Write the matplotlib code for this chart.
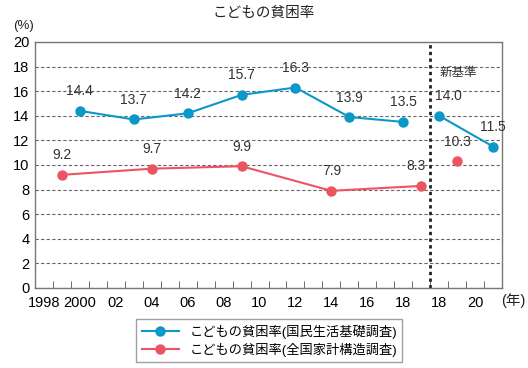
import matplotlib.pyplot as plt
import numpy as np

plt.rcParams['font.family'] = ['Liberation Sans', 'Noto Sans CJK JP']

# 国民生活基礎調査 (旧基準 / 新基準)
blue_years = [2000, 2003, 2006, 2009, 2012, 2015, 2018]
blue_vals = [14.4, 13.7, 14.2, 15.7, 16.3, 13.9, 13.5]
blue_new_years = [2018, 2021]
blue_new_vals = [14.0, 11.5]

# 全国家計構造調査
red_years = [1999, 2004, 2009, 2014, 2019]
red_vals = [9.2, 9.7, 9.9, 7.9, 8.3]
red_new_years = [2019]
red_new_vals = [10.3]

old_ticks = [1998, 2000, 2002, 2004, 2006, 2008, 2010, 2012, 2014, 2016, 2018]
old_labels = ["1998", "2000", "02", "04", "06", "08", "10", "12", "14", "16", "18"]
new_ticks = [2018, 2020]
new_labels = ["18", "20"]

BLUE = "#0b98c8"
RED = "#ec5462"


def pos(years, new=False):
    # 1年 = 1単位、旧基準は1998〜2019、新基準は2018〜2021
    y = np.asarray(years, dtype=float)
    if new:
        return 22 + (y - 2018) + 0.5
    return (y - 1998) + 0.5


fig = plt.figure(figsize=(5.28, 3.68), dpi=100)
ax = fig.add_axes([0.0663, 0.2174, 0.8845, 0.6685])

mk = dict(marker="o", markersize=7.5, linewidth=1.5, markeredgewidth=0)
ax.plot(pos(blue_years), blue_vals, color=BLUE, **mk)
ax.plot(pos(blue_new_years, True), blue_new_vals, color=BLUE, **mk)
ax.plot(pos(red_years), red_vals, color=RED, **mk)
ax.plot(pos(red_new_years, True), red_new_vals, color=RED, linestyle="none",
        marker="o", markersize=7.5, markeredgewidth=0)


def labels(xs, vals, dx=0):
    for x, v in zip(xs, vals):
        ax.annotate(f"{v:.1f}", (x, v), xytext=(dx, 9), textcoords="offset points",
                    ha="center", va="bottom", fontsize=10, color="#333333")


labels(pos(blue_years), blue_vals)
labels(pos(red_years[:-1]), red_vals[:-1])
labels(pos(red_years[-1:]), red_vals[-1:], dx=-4)
labels(pos(blue_new_years[:1], True), blue_new_vals[:1], dx=7)
labels(pos(blue_new_years[1:], True), blue_new_vals[1:])
labels(pos(red_new_years, True), red_new_vals)

ax.axvline(22, color="#222222", linestyle=(0, (1.2, 1.2)), linewidth=2)
ax.text(22.5, 17.5, "新基準", fontsize=9, color="#333333", ha="left", va="center")

ax.set_xlim(0, 26)
ax.set_ylim(0, 20)
ax.set_yticks(np.arange(0, 21, 2))
ax.tick_params(axis="y", length=0, labelsize=10.5, pad=4)
ax.grid(axis="y", color="#666666", linestyle=(0, (3, 2)), linewidth=0.8)
ax.set_axisbelow(True)

xt = list(pos(old_ticks)) + list(pos(new_ticks, True))
ax.set_xticks(xt)
ax.set_xticklabels(old_labels + new_labels)
ax.set_xticks(np.arange(0, 27), minor=True)
ax.tick_params(axis="x", which="major", length=0, labelsize=10.5, pad=6)
ax.tick_params(axis="x", which="minor", direction="in", length=5, color="#555555")
for s in ax.spines.values():
    s.set_color("#777777")
    s.set_linewidth(1)

ax.text(0.998, -0.05, "(年)", transform=ax.transAxes, fontsize=10.5,
        ha="left", va="center", color="#222222")
fig.text(0.025, 0.93, "(%)", fontsize=9.5, ha="left", va="center", color="#222222")
fig.text(0.5, 0.965, "こどもの貧困率", fontsize=10.5, ha="center", va="center",
         color="#222222")

h1, = ax.plot([], [], color=BLUE, **mk)
h2, = ax.plot([], [], color=RED, **mk)
leg = fig.legend([h1, h2], ["こどもの貧困率(国民生活基礎調査)", "こどもの貧困率(全国家計構造調査)"],
                 loc="center", bbox_to_anchor=(0.51, 0.074), fontsize=9.5,
                 frameon=True, fancybox=False, edgecolor="#888888",
                 handlelength=2.8, labelspacing=0.3, borderpad=0.4)
leg.get_frame().set_linewidth(1)

fig.savefig("out.png", dpi=100)
